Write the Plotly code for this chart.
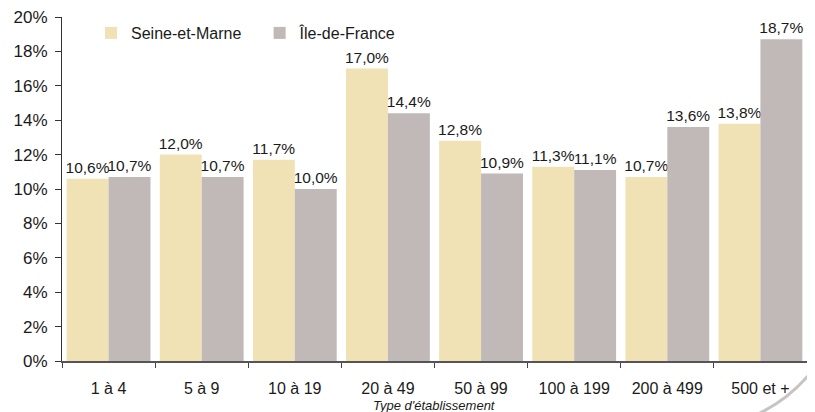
import plotly.graph_objects as go

categories = ["1 à 4", "5 à 9", "10 à 19", "20 à 49", "50 à 99", "100 à 199", "200 à 499", "500 et +"]
seine_et_marne = [10.6, 12.0, 11.7, 17.0, 12.8, 11.3, 10.7, 13.8]
ile_de_france = [10.7, 10.7, 10.0, 14.4, 10.9, 11.1, 13.6, 18.7]
y_ticks = [0, 2, 4, 6, 8, 10, 12, 14, 16, 18, 20]
y_tick_labels = [f"{v}%" for v in y_ticks]

# the page body adds an 8px offset; the figure is sized to fit the 815x412 window
OFF = 8
W, H = 815 - OFF, 412 - OFF
L, R, T, B = 62 - OFF, 8, 17 - OFF, 404 - (361 - OFF)


def fmt(v):
    return f"{v:.1f}".replace(".", ",") + "%"


def px(x, y):
    # convert screen pixel position to paper coords
    x -= OFF
    y -= OFF
    return (x - L) / (W - L - R), (H - B - y) / (H - T - B)


fig = go.Figure()
fig.add_trace(go.Bar(
    name="Seine-et-Marne\u00a0\u00a0\u00a0", x=categories, y=seine_et_marne,
    marker=dict(color="#F0E2B5", line=dict(width=0)),
    text=[fmt(v) for v in seine_et_marne], textposition="outside",
    textfont=dict(family="Liberation Sans", size=15.5, color="#1a1a1a"),
    constraintext="none", cliponaxis=False,
))
fig.add_trace(go.Bar(
    name="Île-de-France", x=categories, y=ile_de_france,
    marker=dict(color="#C1B8B8", line=dict(width=0)),
    text=[fmt(v) for v in ile_de_france], textposition="outside",
    textfont=dict(family="Liberation Sans", size=15.5, color="#1a1a1a"),
    constraintext="none", cliponaxis=False,
))

lx, _ = px(91, 0)
_, ly = px(0, 33)

x0, y0 = px(758, 414)
xc, yc = px(792, 398)
x1, y1 = px(816, 366)

fig.update_layout(
    width=W, height=H,
    margin=dict(l=L, r=R, t=T, b=B, autoexpand=False),
    paper_bgcolor="white", plot_bgcolor="white",
    barmode="group", bargap=0.1, bargroupgap=0,
    font=dict(family="Liberation Sans", size=16, color="#1a1a1a"),
    legend=dict(orientation="h", x=lx, y=ly, xanchor="left", yanchor="middle",
                font=dict(size=16), bgcolor="rgba(0,0,0,0)",
                traceorder="normal"),
    xaxis=dict(
        automargin=False,
        showline=True, linecolor="#555555", linewidth=2,
        ticks="outside", tickson="boundaries", ticklen=5, tickcolor="#444444",
        ticklabelstandoff=12, ticklabeloverflow="allow",
        tickfont=dict(family="Liberation Sans", size=16),
        showgrid=False,
    ),
    yaxis=dict(
        automargin=False,
        range=[0, 20], tickvals=y_ticks, ticktext=y_tick_labels,
        showline=True, linecolor="#333333", linewidth=1,
        ticks="outside", ticklen=6, tickcolor="#333333",
        ticklabelstandoff=4, ticklabeloverflow="allow",
        showgrid=False, zeroline=False,
        tickfont=dict(size=17),
    ),
    annotations=[dict(
        text="<i>Type d'établissement</i>", xref="paper", yref="paper",
        x=0.5, y=0, yshift=-44, xanchor="center", yanchor="middle",
        showarrow=False, font=dict(size=13, color="#1a1a1a"),
    )],
    shapes=[dict(
        type="path", xref="paper", yref="paper",
        path=f"M {x0},{y0} Q {xc},{yc} {x1},{y1}",
        line=dict(color="#c8c4c4", width=3),
    )],
)

fig.write_html("out.html")
